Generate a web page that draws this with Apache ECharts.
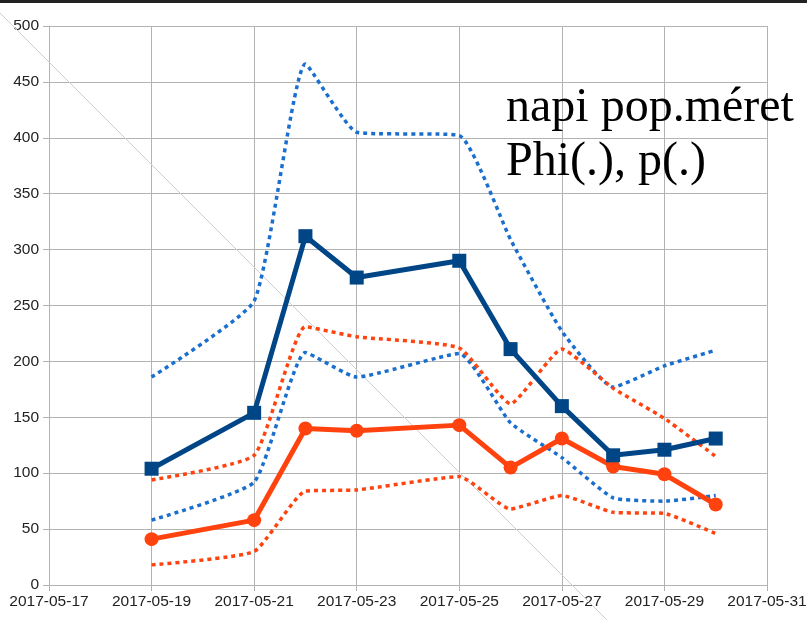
<!DOCTYPE html>
<html>
<head>
<meta charset="utf-8">
<script src="https://cdn.jsdelivr.net/npm/echarts@6/dist/echarts.min.js"></script>
<style>
  html, body { margin: 0; padding: 0; background: #fff; }
  #chart { width: 807px; height: 620px; }
</style>
</head>
<body>
<div id="chart"></div>
<script>
// dates of the measurements
var dates = ['2017-05-19', '2017-05-21', '2017-05-22', '2017-05-23', '2017-05-25',
             '2017-05-26', '2017-05-27', '2017-05-28', '2017-05-29', '2017-05-30'];
var startDate = '2017-05-17';
var endDate = '2017-05-31';

// Phi(.) - kék
var phi      = [104, 154, 312, 275, 290, 211, 160, 116, 121, 131];
var phiUpper = [186, 254, 466, 405, 402, 309, 227, 177, 196, 210];
var phiLower = [58, 92, 208, 186, 207, 145, 114, 78, 75, 80];
// p(.) - narancs
var p      = [41, 58, 140, 138, 143, 105, 131, 106, 99, 72];
var pUpper = [94, 116, 231, 222, 212, 162, 211, 176, 149, 115];
var pLower = [18, 30, 84, 85, 97, 68, 80, 65, 64, 46];

var DAY = 86400000;
function dayIdx(s) {
    return (Date.parse(s) - Date.parse(startDate)) / DAY;
}
function toLabel(v) {
    var d = new Date(Date.parse(startDate) + v * DAY);
    return d.toISOString().slice(0, 10);
}
function pairs(vals) {
    return dates.map(function (d, i) { return [dayIdx(d), vals[i]]; });
}

var gridColor = '#b3b3b3';
var chart = echarts.init(document.getElementById('chart'));

function dotted(name, vals, color) {
    return {
        name: name, type: 'line', data: pairs(vals),
        symbol: 'none', smooth: 0.15, z: 2,
        lineStyle: { color: color, width: 3.5, type: [4, 4] }
    };
}

var option = {
    backgroundColor: '#ffffff',
    animation: false,
    grid: { left: 49, right: 40, top: 26, bottom: 35, outerBoundsMode: 'none' },
    xAxis: {
        type: 'value',
        min: 0,
        max: dayIdx(endDate),
        interval: 2,
        axisLine: { show: true, lineStyle: { color: gridColor } },
        axisTick: { show: true, length: 6, lineStyle: { color: gridColor } },
        splitLine: { show: true, lineStyle: { color: gridColor } },
        axisLabel: {
            formatter: toLabel, color: '#222', fontSize: 15.5,
            fontFamily: 'Liberation Sans', margin: 9,
            showMinLabel: true, showMaxLabel: true
        }
    },
    yAxis: {
        type: 'value',
        min: 0, max: 500, interval: 50,
        axisLine: { show: true, lineStyle: { color: gridColor } },
        axisTick: { show: true, length: 6, lineStyle: { color: gridColor } },
        splitLine: { show: true, lineStyle: { color: gridColor } },
        axisLabel: { color: '#222', fontSize: 15.5, fontFamily: 'Liberation Sans', margin: 10 }
    },
    graphic: [
        { type: 'rect', left: 0, top: 0, shape: { width: 807, height: 3 }, style: { fill: '#222' } },
        { type: 'line', shape: { x1: 0, y1: 13, x2: 607, y2: 620 }, style: { stroke: '#d0d0d0', lineWidth: 1 }, z: 1 },
        {
            type: 'text', left: 506, top: 81, z: 10,
            style: {
                text: 'napi pop.méret\nPhi(.), p(.)',
                font: '48px "Liberation Serif"',
                lineHeight: 54, fill: '#000'
            }
        }
    ],
    series: [
        dotted('Phi felső', phiUpper, '#1a6fce'),
        dotted('Phi alsó', phiLower, '#1a6fce'),
        dotted('p felső', pUpper, '#ff420e'),
        dotted('p alsó', pLower, '#ff420e'),
        {
            name: 'Phi(.)', type: 'line', data: pairs(phi), z: 4,
            symbol: 'rect', symbolSize: 14,
            itemStyle: { color: '#004586' },
            lineStyle: { color: '#004586', width: 5 }
        },
        {
            name: 'p(.)', type: 'line', data: pairs(p), z: 3,
            symbol: 'circle', symbolSize: 14,
            itemStyle: { color: '#ff420e' },
            lineStyle: { color: '#ff420e', width: 5 }
        }
    ]
};
chart.setOption(option);
</script>
</body>
</html>
